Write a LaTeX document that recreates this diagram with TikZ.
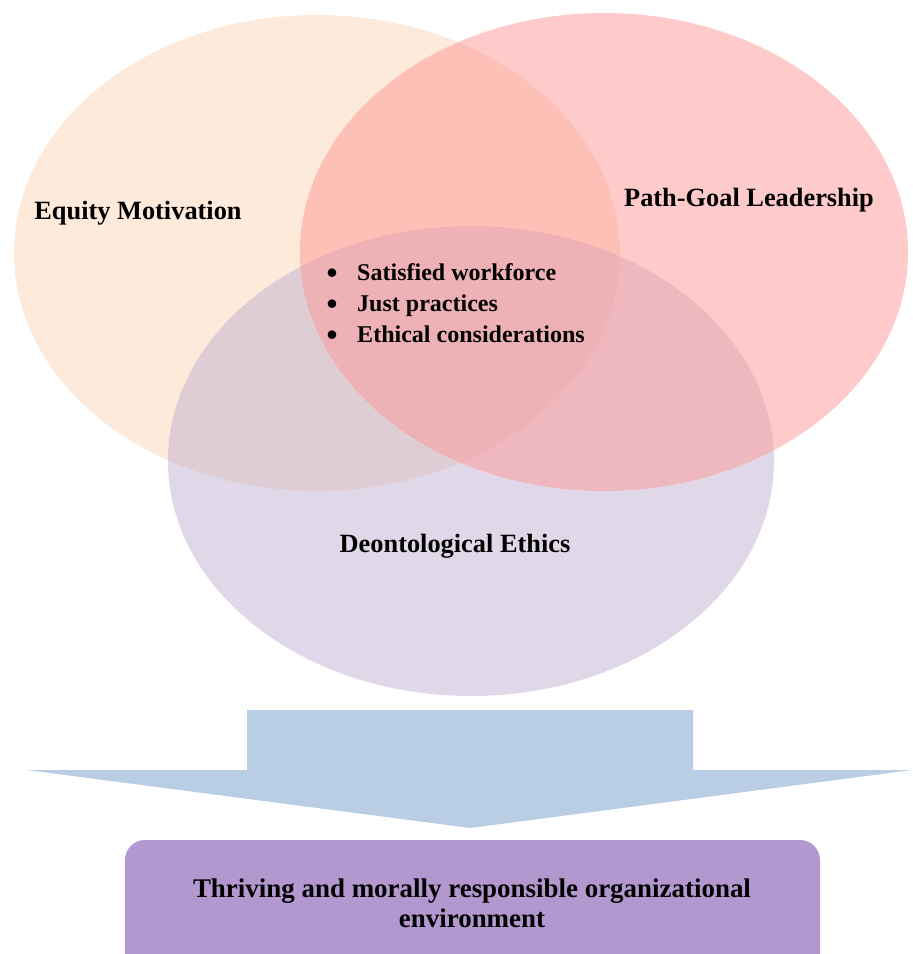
\documentclass[tikz,border=0pt]{standalone}
\usepackage{fontspec}
\setmainfont{Liberation Serif}
\usetikzlibrary{positioning}

\definecolor{equityfill}{RGB}{251,213,181}
\definecolor{pathfill}{RGB}{255,150,150}
\definecolor{deonfill}{RGB}{193,178,209}
\definecolor{arrowfill}{RGB}{185,205,229}
\definecolor{outcomefill}{RGB}{179,151,207}

\newcommand{\bigdot}{\raisebox{-3.2pt}{\scalebox{1.3}{\textbullet}}}

\begin{document}
\begin{tikzpicture}[x=0.03cm, y=-0.03cm]
        % Styles
        \tikzstyle{set_label} = [font=\fontsize{22.5}{27}\selectfont\bfseries, inner sep=0pt]
        \tikzstyle{point} = [font=\fontsize{20.5}{24}\selectfont\bfseries, inner sep=0pt]
        \tikzstyle{venn} = [fill opacity=0.5]

        \useasboundingbox (0,0) rectangle (912,954);

        % Three overlapping sets (path-goal drawn last so it tints the middle)
        \fill[venn, equityfill] (317,253) ellipse [x radius=303, y radius=238];
        \fill[venn, deonfill] (471,461) ellipse [x radius=303, y radius=235];
        \fill[venn, pathfill] (604,252) ellipse [x radius=304, y radius=239];

        % Set names
        \node[set_label, anchor=base] (equity) at (138,219) {Equity Motivation};
        \node[set_label, anchor=base] (pathgoal) at (749,206) {Path-Goal Leadership};
        \node[set_label, anchor=base] (deon) at (455,552) {Deontological Ethics};

        % Shared outcomes in the middle
        \foreach \txt [count=\i] in {Satisfied workforce, Just practices, Ethical considerations} {
            \node[point, anchor=base west] (pt\i) at (357,249+31*\i) {\txt};
            \node[point, anchor=base] (dot\i) at (332,249+31*\i) {\bigdot};
        }

        % Big arrow down to the result
        \fill[arrowfill] (247,710) -- (693,710) -- (693,770) -- (912,770) -- (470,828)
            -- (27,770) -- (247,770) -- cycle;

        % Result box (runs off the bottom edge)
        \fill[outcomefill, rounded corners=0.6cm] (125,840) rectangle (820,980);
        \node[set_label, font=\fontsize{23}{25.5}\selectfont\bfseries, align=center, anchor=base]
            (outcome) at (472,927) {Thriving and morally responsible organizational\\environment};
\end{tikzpicture}
\end{document}
